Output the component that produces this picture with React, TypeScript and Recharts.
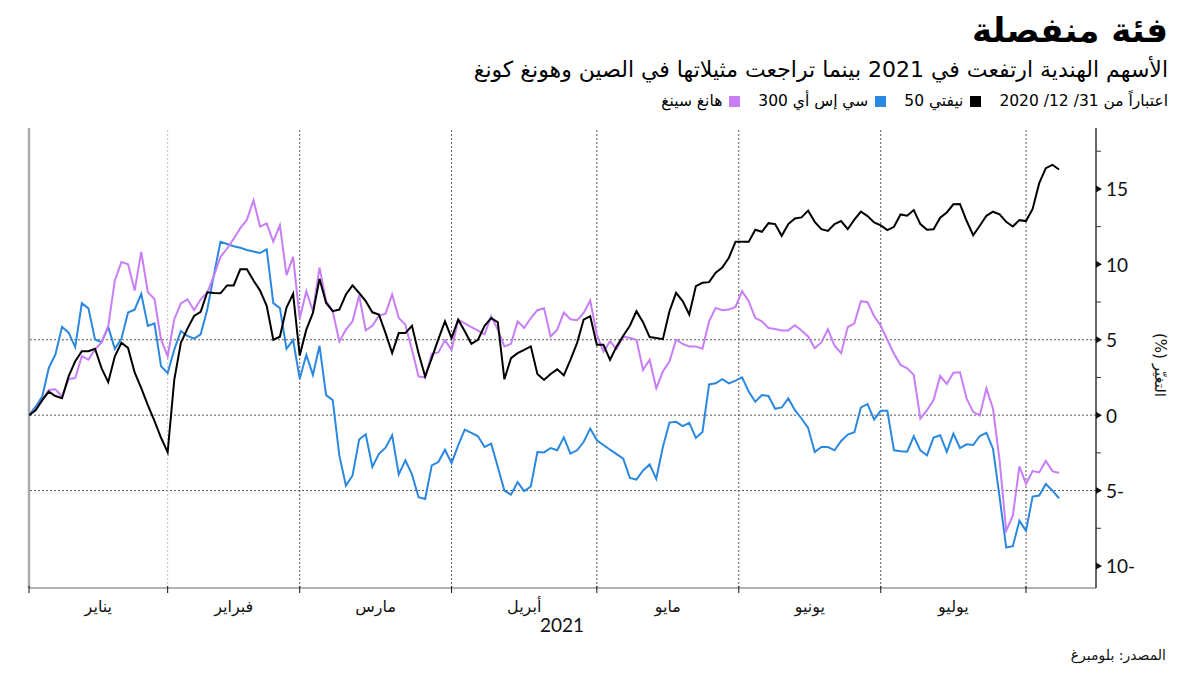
import React from "react";
import { LineChart, Line, XAxis, YAxis, ReferenceLine } from "recharts";

// Cumulative % change since 31/12/2020, one value per trading day (index 0 = 31/12/2020)
const nifty = [
  0, 0.33, 1.0, 1.56, 1.27, 1.12, 2.57, 3.57, 4.24, 4.24, 4.4, 3.1, 2.19, 3.9, 4.8, 4.46, 2.83, 1.79, 0.67, -0.38,
  -1.5, -2.46, 2.34, 4.8, 5.74, 6.58, 6.85, 8.15, 8.1, 8.08, 8.6, 8.6, 9.67, 9.67, 8.93, 8.26, 7.25, 5.0, 5.2, 7.14,
  8.04, 3.95, 5.67, 6.78, 9.04, 7.44, 6.89, 7.0, 8.0, 8.6, 8.1, 7.56, 6.82, 6.67, 5.44, 4.11, 5.44, 5.44, 5.93, 4.11,
  2.56, 3.78, 5.04, 6.22, 5.11, 6.33, 5.56, 4.73, 5.0, 5.93, 6.44, 6.16, 2.38, 3.78, 4.11, 4.33, 4.56, 2.73, 2.33, 2.73,
  3.04, 2.64, 3.67, 4.78, 6.33, 6.56, 4.67, 4.67, 3.67, 4.56, 5.27, 5.93, 6.89, 6.16, 5.18, 5.11, 5.04, 6.89, 8.11, 7.56,
  6.67, 8.56, 8.78, 8.82, 9.44, 9.78, 10.44, 11.49, 11.49, 11.49, 12.29, 12.16, 12.73, 12.67, 11.89, 12.67, 13.04, 13.11, 13.56, 12.82,
  12.33, 12.22, 12.67, 12.87, 12.33, 12.96, 13.49, 13.2, 12.78, 12.58, 12.27, 12.49, 13.31, 13.22, 13.6, 12.67, 12.29, 12.33, 13.09, 13.44,
  13.98, 14.0, 12.89, 11.93, 12.56, 13.22, 13.49, 13.31, 12.82, 12.51, 12.93, 12.87, 13.67, 15.38, 16.38, 16.6, 16.29,
];

const csi300 = [
  0, 0.56, 1.23, 3.13, 4.02, 5.85, 5.47, 4.51, 7.43, 7.08, 5.02, 4.84, 5.85, 4.4, 5.07, 6.81, 6.99, 8.04, 5.92, 6.09,
  3.24, 2.79, 4.35, 5.58, 5.25, 5.07, 5.36, 7.0, 9.3, 11.5, 11.35, 11.2, 11.1, 10.95, 10.85, 10.75, 11.0, 7.43, 7.1, 4.4,
  4.98, 2.42, 4.0, 2.67, 4.6, 1.33, 1.0, -2.67, -4.67, -4.0, -1.62, -1.27, -3.44, -2.56, -2.16, -1.33, -3.93, -3.0, -3.93, -5.44,
  -5.56, -3.33, -3.11, -2.29, -3.18, -2.0, -0.96, -1.18, -1.4, -2.11, -1.89, -3.44, -5.0, -5.27, -4.44, -5.04, -4.73, -2.44, -2.47, -2.18,
  -2.33, -1.47, -2.55, -2.33, -1.78, -0.89, -1.67, -1.98, -2.29, -2.58, -2.89, -4.16, -4.27, -3.67, -3.27, -4.22, -2.11, -0.49, -0.44, -0.73,
  -0.51, -1.51, -1.11, 2.04, 2.11, 2.38, 2.11, 2.29, 2.51, 1.56, 0.89, 1.33, 1.27, 0.42, 0.51, 1.11, 0.33, -0.22, -0.84, -2.44,
  -2.11, -2.11, -2.33, -1.71, -1.29, -1.13, 0.51, 0.73, -0.29, 0.29, 0.29, -2.33, -2.4, -2.42, -1.4, -2.33, -2.67, -1.49, -1.33, -2.44,
  -1.22, -2.18, -1.93, -1.98, -1.38, -1.18, -2.22, -5.44, -8.78, -8.69, -7.0, -7.67, -5.4, -5.33, -4.56, -5.0, -5.51,
];

const hangSeng = [
  0, 0.38, 1.0, 1.67, 1.72, 1.23, 2.39, 2.46, 3.91, 3.68, 4.35, 4.84, 5.9, 8.93, 10.16, 10.0, 8.26, 10.83, 8.15, 7.7,
  5.02, 3.9, 6.36, 7.41, 7.68, 6.96, 7.68, 8.13, 9.24, 10.49, 11.05, 11.7, 12.4, 12.95, 14.24, 12.5, 12.72, 11.5, 12.6, 9.28,
  10.5, 6.4, 8.22, 6.89, 9.78, 7.56, 6.89, 4.89, 5.67, 6.22, 7.93, 5.62, 5.93, 6.6, 6.73, 8.0, 6.44, 6.0, 4.33, 2.56,
  2.51, 4.07, 4.16, 4.96, 4.33, 6.33, 6.09, 5.84, 5.6, 5.36, 6.56, 5.67, 4.56, 4.73, 6.22, 5.78, 6.44, 6.96, 7.09, 5.22,
  5.67, 6.8, 6.36, 6.29, 6.78, 7.6, 5.33, 4.22, 4.89, 4.38, 5.22, 5.11, 5.0, 3.0, 3.67, 1.78, 2.89, 3.56, 5.0, 4.73,
  4.56, 4.56, 4.4, 6.22, 7.11, 6.96, 7.0, 7.18, 8.22, 7.56, 6.44, 6.22, 5.78, 5.71, 5.62, 5.62, 5.96, 5.62, 5.22, 4.44,
  4.82, 5.7, 4.6, 4.11, 5.84, 6.09, 7.56, 7.49, 6.56, 5.93, 5.0, 4.07, 3.33, 3.11, 2.67, -0.22, 0.33, 1.0, 2.6, 2.07,
  2.82, 2.84, 1.11, 0.22, -0.02, 1.78, 0.44, -3.0, -7.67, -6.67, -3.4, -4.56, -3.71, -3.8, -3.04, -3.71, -3.84,
];

// Month boundaries (trading-day index) and month labels
const monthStarts = [0, 21, 41, 64, 86, 107.5, 129, 151];
const monthLabels = ["يناير", "فبراير", "مارس", "أبريل", "مايو", "يونيو", "يوليو"];
const yearLabel = "2021";

const yMajorTicks = [-10, -5, 0, 5, 10, 15];
const yMinorTicks = [-7.5, -2.5, 2.5, 7.5, 12.5, 17.5];
const yGridLines = [-5, 0, 5];

const title = "فئة منفصلة";
const subtitle = "الأسهم الهندية ارتفعت في 2021 بينما تراجعت مثيلاتها في الصين وهونغ كونغ";
const asOf = "اعتباراً من 31/ 12/ 2020";
const seriesNames = ["نيفتي 50", "سي إس أي 300", "هانغ سينغ"];
const seriesColors = ["#000000", "#2b88e0", "#c77ef7"];
const yLabel = "التغيّر (%)";
const source = "المصدر: بلومبرغ";

const data = nifty.map((v, i) => ({ i, nifty: v, csi: csi300[i], hsi: hangSeng[i] }));
const labelPositions = monthLabels.map((_, k) => (monthStarts[k] + monthStarts[k + 1]) / 2);

const AR = "'DejaVu Sans', sans-serif";
const NUM = "Lato, 'Open Sans', sans-serif";

const XTick = (props: any) => {
  const { x, y, payload } = props;
  const v = payload.value;
  const li = labelPositions.indexOf(v);
  if (li >= 0) {
    return (
      <text x={x} y={y + 18} textAnchor="middle" dominantBaseline="central" fontFamily={AR} fontSize={16} fill="#111">
        {monthLabels[li]}
      </text>
    );
  }
  return <line x1={x} y1={y - 2} x2={x} y2={y + 5} stroke="#111" strokeWidth={1} />;
};

const YTick = (props: any) => {
  const { x, y, payload } = props;
  const v = payload.value;
  if (yMajorTicks.includes(v)) {
    const label = v < 0 ? `${-v}-` : `${v}`;
    return (
      <g>
        <polygon points={`${x},${y - 3.5} ${x + 6},${y} ${x},${y + 3.5}`} fill="#111" />
        <text x={x + 10} y={y} dominantBaseline="central" fontFamily={NUM} fontSize={19} fill="#111">
          {label}
        </text>
      </g>
    );
  }
  return <line x1={x} y1={y} x2={x + 5} y2={y} stroke="#333" strokeWidth={1} />;
};

export default function App() {
  return (
    <div style={{ position: "absolute", left: 0, top: 0, width: 1200, height: 675, background: "#fff", overflow: "hidden" }}>
      <LineChart width={1200} height={675} data={data} margin={{ top: 128, right: 44, bottom: 47, left: 29 }}>
        <XAxis
          dataKey="i"
          type="number"
          domain={[0, 161.6]}
          ticks={[...monthStarts, ...labelPositions]}
          interval={0}
          tick={<XTick />}
          tickSize={0}
          tickMargin={0}
          tickLine={false}
          axisLine={{ stroke: "#999", strokeWidth: 1.5 }}
          height={40}
          allowDataOverflow
        />
        <YAxis
          orientation="right"
          type="number"
          domain={[-11.46, 19.04]}
          ticks={[...yMajorTicks, ...yMinorTicks].sort((a, b) => a - b)}
          interval={0}
          tick={<YTick />}
          tickSize={0}
          tickMargin={0}
          tickLine={false}
          axisLine={{ stroke: "#333", strokeWidth: 1.5 }}
          width={60}
          allowDataOverflow
        />
        {yGridLines.map((g) => (
          <ReferenceLine key={`h${g}`} y={g} stroke="#555" strokeDasharray="2 2" strokeWidth={1} />
        ))}
        {monthStarts.slice(1).map((m, k) => (
          <ReferenceLine key={`v${m}`} x={m} stroke={k === 0 ? "#bbb" : "#555"} strokeDasharray="2 2" strokeWidth={1} />
        ))}
        <ReferenceLine x={0} stroke="#aaa" strokeWidth={2.5} />
        <Line dataKey="csi" stroke={seriesColors[1]} strokeWidth={2} dot={false} isAnimationActive={false} type="linear" />
        <Line dataKey="hsi" stroke={seriesColors[2]} strokeWidth={2} dot={false} isAnimationActive={false} type="linear" />
        <Line dataKey="nifty" stroke={seriesColors[0]} strokeWidth={2} dot={false} isAnimationActive={false} type="linear" />
      </LineChart>

      <div style={{ position: "absolute", right: 32, top: 7, fontFamily: AR, fontWeight: 700, fontSize: 34, lineHeight: "46px", direction: "rtl", color: "#000" }}>
        {title}
      </div>
      <div style={{ position: "absolute", right: 32, top: 55, fontFamily: AR, fontSize: 22, lineHeight: "30px", direction: "rtl", color: "#000", whiteSpace: "nowrap" }}>
        {subtitle}
      </div>
      <div style={{ position: "absolute", right: 32, top: 90, fontFamily: AR, fontSize: 15.5, lineHeight: "22px", direction: "rtl", color: "#000", display: "flex", alignItems: "center", whiteSpace: "nowrap" }}>
        <span>{asOf}</span>
        {seriesNames.map((n, k) => (
          <span key={n} style={{ display: "flex", alignItems: "center", marginRight: 18 }}>
            <span style={{ width: 11, height: 11, background: seriesColors[k], display: "inline-block", marginLeft: 7 }} />
            <span>{n}</span>
          </span>
        ))}
      </div>
      <div style={{ position: "absolute", left: 540, top: 613, fontFamily: NUM, fontSize: 19, lineHeight: "24px", color: "#111" }}>
        {yearLabel}
      </div>
      <div style={{ position: "absolute", left: 1160, top: 365, transform: "translate(-50%, -50%) rotate(90deg)", fontFamily: AR, fontSize: 15, direction: "rtl", whiteSpace: "nowrap", color: "#111" }}>
        {yLabel}
      </div>
      <div style={{ position: "absolute", right: 34, top: 645, fontFamily: AR, fontSize: 14, lineHeight: "20px", direction: "rtl", color: "#111" }}>
        {source}
      </div>
    </div>
  );
}
